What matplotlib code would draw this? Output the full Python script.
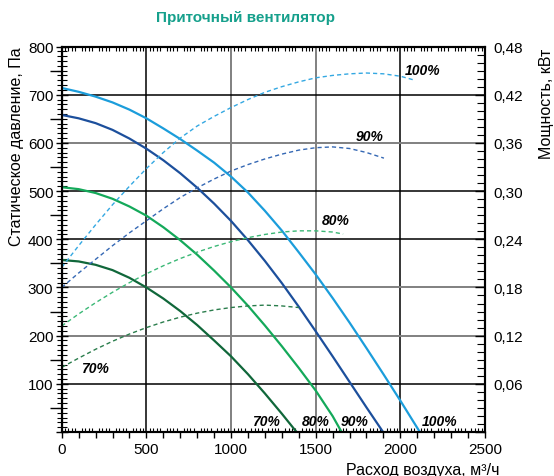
import matplotlib
matplotlib.use('Agg')
import matplotlib.pyplot as plt
from matplotlib.ticker import FixedLocator, MultipleLocator, FuncFormatter

plt.rcParams['font.family'] = ['Liberation Sans', 'DejaVu Sans']

# static pressure curves, Pa (left axis)
x_p100 = [0, 100, 200, 300, 400, 500, 600, 700, 800, 900, 1000, 1100, 1200, 1300, 1400, 1500,
          1600, 1700, 1800, 1900, 2000, 2115]
p100 = [714, 706, 696, 684, 669, 651, 630, 608, 584, 559, 530, 497, 459, 418, 373, 327,
        278, 227, 174, 120, 65, 0]
x_p90 = [0, 100, 200, 300, 400, 500, 600, 700, 800, 900, 1000, 1100, 1200, 1300, 1400, 1500,
         1600, 1700, 1800, 1898]
p90 = [658, 651, 641, 627, 609, 588, 564, 537, 507, 474, 438, 398, 355, 309, 260, 209,
       157, 104, 51, 0]
x_p80 = [0, 100, 200, 300, 400, 500, 600, 700, 800, 900, 1000, 1100, 1200, 1300, 1400, 1500,
         1600, 1653]
p80 = [508, 504, 496, 484, 468, 449, 425, 398, 368, 335, 300, 262, 221, 178, 133, 86, 33, 0]
x_p70 = [0, 100, 200, 300, 400, 500, 600, 700, 800, 900, 1000, 1100, 1200, 1300, 1387]
p70 = [357, 354, 347, 336, 320, 300, 277, 251, 222, 190, 157, 120, 80, 38, 0]

# power curves, kW (right axis)
x_n100 = [0, 100, 200, 300, 400, 500, 600, 700, 800, 900, 1000, 1100, 1200, 1300, 1400, 1500,
          1600, 1700, 1800, 1900, 2000, 2086]
n100 = [0.205, 0.232, 0.258, 0.283, 0.306, 0.328, 0.348, 0.366, 0.381, 0.393, 0.404, 0.414,
        0.423, 0.430, 0.436, 0.441, 0.444, 0.446, 0.447, 0.446, 0.443, 0.438]
x_n90 = [0, 100, 200, 300, 400, 500, 600, 700, 800, 900, 1000, 1100, 1200, 1300, 1400, 1500,
         1600, 1700, 1800, 1903]
n90 = [0.180, 0.198, 0.215, 0.232, 0.248, 0.263, 0.278, 0.292, 0.304, 0.315, 0.325, 0.333,
       0.340, 0.346, 0.351, 0.354, 0.355, 0.353, 0.348, 0.341]
x_n80 = [0, 100, 200, 300, 400, 500, 600, 700, 800, 900, 1000, 1100, 1200, 1300, 1400, 1500,
         1600, 1662]
n80 = [0.132, 0.147, 0.161, 0.174, 0.186, 0.197, 0.207, 0.216, 0.224, 0.231, 0.237, 0.242,
       0.246, 0.249, 0.2505, 0.2505, 0.249, 0.2465]
x_n70 = [0, 100, 200, 300, 400, 500, 600, 700, 800, 900, 1000, 1100, 1200, 1300, 1400]
n70 = [0.0805, 0.092, 0.103, 0.113, 0.122, 0.130, 0.137, 0.143, 0.148, 0.152, 0.155, 0.157,
       0.158, 0.157, 0.155]

c100, c90, c80, c70 = '#1b9ddb', '#1c4f9c', '#14a95a', '#10673a'
cd100, cd90, cd80, cd70 = '#34a8e2', '#3568b4', '#3bb876', '#2a7d4c'

fig = plt.figure(figsize=(5.54, 4.77), dpi=100)
ax = fig.add_axes([0.1114, 0.0922, 0.7641, 0.8082])
ax2 = ax.twinx()

ax.set_xlim(0, 2500)
ax.set_ylim(0, 800)
ax2.set_ylim(0, 0.48)

# grid
for xv, col in [(500, 'black'), (1000, '#808080'), (1500, '#808080'), (2000, 'black')]:
    ax.axvline(xv, color=col, lw=1.1 if col == 'black' else 1.4, zorder=1)
for yv, col in [(100, 'black'), (200, '#808080'), (300, '#808080'), (400, 'black'),
                (500, 'black'), (600, '#808080'), (700, 'black')]:
    ax.axhline(yv, color=col, lw=1.1 if col == 'black' else 1.4, zorder=1)

ax.plot(x_p100, p100, color=c100, lw=1.6, zorder=3)
ax.plot(x_p90, p90, color=c90, lw=1.6, zorder=3)
ax.plot(x_p80, p80, color=c80, lw=1.6, zorder=3)
ax.plot(x_p70, p70, color=c70, lw=1.6, zorder=3)

dash = (0, (3, 2.2))
ax2.plot(x_n100, n100, color=cd100, lw=1.0, ls=dash)
ax2.plot(x_n90, n90, color=cd90, lw=1.0, ls=dash)
ax2.plot(x_n80, n80, color=cd80, lw=1.0, ls=dash)
ax2.plot(x_n70, n70, color=cd70, lw=1.0, ls=dash)

# percent labels
lab = dict(fontsize=10, fontweight='bold', style='italic', ha='center', va='center', zorder=5)
ax.text(2133, 751, '100%', **lab)
ax.text(1820, 614, '90%', **lab)
ax.text(1619, 440, '80%', **lab)
ax.text(197, 133, '70%', **lab)
ax.text(1206, 23, '70%', **lab)
ax.text(1501, 23, '80%', **lab)
ax.text(1731, 23, '90%', **lab)
ax.text(2233, 23, '100%', **lab)

# ticks
ax.xaxis.set_major_locator(FixedLocator(range(0, 2501, 100)))
ax.xaxis.set_major_formatter(FuncFormatter(lambda v, p: f'{int(v)}' if v % 500 == 0 else ''))
ax.xaxis.set_minor_locator(MultipleLocator(20))
ax.tick_params(axis='x', which='major', direction='out', length=4, width=1, labelsize=11, pad=3)
ax.tick_params(axis='x', which='minor', direction='in', length=3, width=0.8, top=True)

ax.yaxis.set_major_locator(FixedLocator(range(0, 801, 100)))
ax.yaxis.set_major_formatter(FuncFormatter(lambda v, p: '' if v == 0 else f'{int(v)}'))
ax.yaxis.set_minor_locator(MultipleLocator(10))
ax.tick_params(axis='y', which='major', direction='inout', length=8, width=1, labelsize=11, pad=2)
ax.tick_params(axis='y', which='minor', direction='inout', length=7, width=0.8)

sec = ax.secondary_yaxis('left')
sec.set_yticks(range(50, 800, 100))
sec.set_yticklabels([])
sec.tick_params(direction='out', length=9, width=1)

ax2.yaxis.set_major_locator(MultipleLocator(0.06))
ax2.yaxis.set_major_formatter(FuncFormatter(lambda v, p: '' if v < 0.001 else f'{v:.2f}'.replace('.', ',')))
ax2.yaxis.set_minor_locator(MultipleLocator(0.01))
ax2.tick_params(axis='y', which='major', direction='in', length=7, width=1, labelsize=11, pad=6)
ax2.tick_params(axis='y', which='minor', direction='in', length=6, width=0.8)

for a in (ax, ax2):
    for s in a.spines.values():
        s.set_linewidth(1.5)

ax.text(-0.106, 1.0, 'Статическое давление, Па', rotation=90, ha='center', va='top',
        fontsize=11.5, transform=ax.transAxes)
ax.text(1.145, 0.996, 'Мощность, кВт', rotation=90, ha='center', va='top',
        fontsize=11.5, transform=ax.transAxes)
ax.text(1.035, -0.096, 'Расход воздуха, м³/ч', ha='right', va='center',
        fontsize=11.5, transform=ax.transAxes)

fig.text(0.444, 1 - 18 / 477, 'Приточный вентилятор', ha='center', va='center',
         fontsize=11, fontweight='bold', color='#16a08c')

fig.savefig('out.png', dpi=100)
